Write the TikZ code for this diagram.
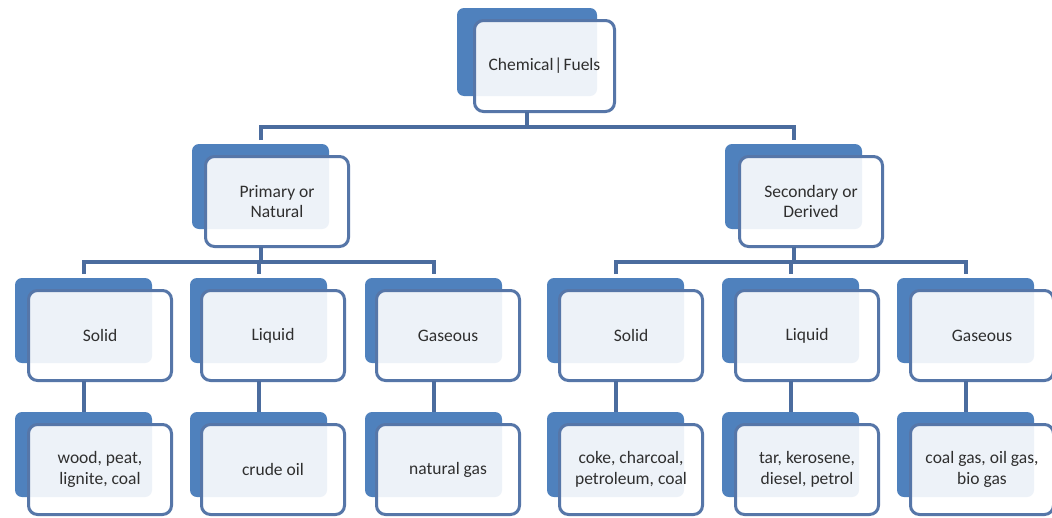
\documentclass[tikz,border=0pt]{standalone}
\usepackage{fontspec}
\setmainfont{Carlito}
\definecolor{backblue}{HTML}{4F81BD}
\definecolor{edgeblue}{HTML}{5676A8}
\definecolor{linkblue}{HTML}{4B6C9E}
\definecolor{textgray}{HTML}{2F2F2F}
\begin{document}
\begin{tikzpicture}[x=1pt,y=-1pt,
  backbox/.style={fill=backblue, rounded corners=7pt, minimum width=137pt, minimum height=85pt,
    inner sep=0pt, outer sep=0pt, anchor=north west},
  frontbox/.style={fill=white, fill opacity=0.9, text opacity=1, draw=edgeblue, draw opacity=1,
    line width=3pt, rounded corners=9pt, minimum width=143pt, minimum height=90pt,
    inner sep=0pt, outer sep=0pt, anchor=north west, align=center,
    font=\fontsize{17.5}{20.5}\selectfont, text=textgray},
  link/.style={draw=linkblue, line width=4pt, line join=miter}]
\useasboundingbox (0,0) rectangle (1052,517);
\fill[white] (0,0) rectangle (1052,517);

% bus coordinates
\coordinate (bus0) at (0,127);
\coordinate (tick0) at (0,140);
\coordinate (bus1) at (0,262);
\coordinate (tick1) at (0,274);

% back boxes
\node[backbox, minimum width=140pt, minimum height=88pt] (b0) at (457,8) {};
\node[backbox] (bP) at (192,144) {};
\node[backbox] (bS) at (725,144) {};
\foreach \n/\x in {P1/15, P2/190, P3/365, S1/547, S2/722, S3/897}{
  \node[backbox] (b\n) at (\x,278) {};
  \node[backbox] (c\n) at (\x,412) {};
}

% front boxes with text
\node[frontbox, minimum width=140pt, minimum height=91pt] (f0) at (474.5,20.5) {Chemical\kern1pt|\kern1ptFuels};
\node[frontbox] (fP) at (205.5,156.5) {Primary or\\Natural};
\node[frontbox] (fS) at (739.5,156.5) {Secondary or\\Derived};

\node[frontbox] (fP1) at (28.5,290.5) {Solid};
\node[frontbox] (fP2) at (201.5,290.5) {Liquid};
\node[frontbox] (fP3) at (376.5,290.5) {Gaseous};
\node[frontbox] (fS1) at (559.5,290.5) {Solid};
\node[frontbox] (fS2) at (735.5,290.5) {Liquid};
\node[frontbox] (fS3) at (910.5,290.5) {Gaseous};

\node[frontbox] (gP1) at (28.5,424.5) {wood, peat,\\lignite, coal};
\node[frontbox] (gP2) at (201.5,424.5) {crude oil};
\node[frontbox] (gP3) at (376.5,424.5) {natural gas};
\node[frontbox] (gS1) at (559.5,424.5) {coke, charcoal,\\petroleum, coal};
\node[frontbox] (gS2) at (735.5,424.5) {tar, kerosene,\\diesel, petrol};
\node[frontbox] (gS3) at (910.5,424.5) {coal gas, oil gas,\\bio gas};

% connectors
\draw[link] (b0 |- f0.south) -- (b0 |- bus0);
\draw[link] (bP |- tick0) -- (bP |- bus0) -- (bS |- bus0) -- (bS |- tick0);
\draw[link] (bP |- fP.south) -- (bP |- bus1);
\draw[link] (bP1 |- tick1) -- (bP1 |- bus1) -- (bP3 |- bus1) -- (bP3 |- tick1);
\draw[link] (bP2 |- bus1) -- (bP2 |- tick1);
\draw[link] (bS |- fS.south) -- (bS |- bus1);
\draw[link] (bS1 |- tick1) -- (bS1 |- bus1) -- (bS3 |- bus1) -- (bS3 |- tick1);
\draw[link] (bS2 |- bus1) -- (bS2 |- tick1);
\foreach \n in {P1,P2,P3,S1,S2,S3}{
  \draw[link] (b\n |- f\n.south) -- (c\n.north);
}
\end{tikzpicture}
\end{document}
